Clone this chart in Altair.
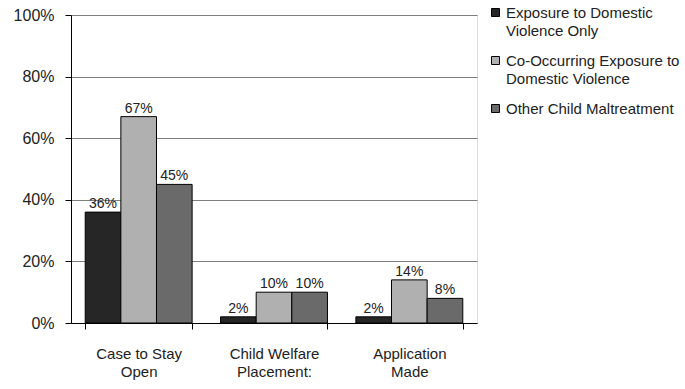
import altair as alt
import pandas as pd

categories = ["Case to Stay|Open", "Child Welfare|Placement:", "Application|Made"]
series = [
    "Exposure to Domestic|Violence Only",
    "Co-Occurring Exposure to|Domestic Violence",
    "Other Child Maltreatment",
]
colors = ["#262626", "#b0b0b0", "#6a6a6a"]
values = {
    series[0]: [36, 2, 2],
    series[1]: [67, 10, 14],
    series[2]: [45, 10, 8],
}

rows = []
for s in series:
    for c, v in zip(categories, values[s]):
        rows.append({"category": c, "series": s, "value": v / 100, "label": f"{v}%"})
df = pd.DataFrame(rows)

FONT = "Liberation Sans"
INK = "#222222"

x = alt.X(
    "category:N",
    sort=categories,
    scale=alt.Scale(paddingInner=0.21, paddingOuter=0.105),
    axis=alt.Axis(
        title=None,
        labelAngle=0,
        labelExpr="split(datum.label, '|')",
        labelFontSize=15,
        labelLineHeight=18,
        labelPadding=17,
        labelColor=INK,
        labelFont=FONT,
        tickBand="extent",
        tickSize=6,
        tickColor="#000000",
        domainColor="#000000",
    ),
)
y = alt.Y(
    "value:Q",
    scale=alt.Scale(domain=[0, 1], nice=False),
    axis=alt.Axis(
        title=None,
        format=".0%",
        values=[0, 0.2, 0.4, 0.6, 0.8, 1.0],
        labelFontSize=16,
        labelFont=FONT,
        labelColor=INK,
        labelPadding=11,
        tickSize=6,
        tickColor="#000000",
        domainColor="#000000",
        gridColor="#7f7f7f",
        gridOpacity=1,
    ),
)
xoff = alt.XOffset("series:N", sort=series)

bars = alt.Chart(df).mark_bar(stroke="#000000", strokeWidth=1).encode(
    x=x,
    xOffset=xoff,
    y=y,
    color=alt.Color(
        "series:N",
        sort=series,
        scale=alt.Scale(domain=series, range=colors),
        legend=alt.Legend(
            title=None,
            orient="none",
            legendX=417,
            legendY=-10,
            symbolType="square",
            symbolSize=64,
            symbolStrokeColor="#000000",
            symbolStrokeWidth=1,
            symbolOpacity=1,
            labelExpr="split(datum.label, '|')",
            labelFont=FONT,
            labelFontSize=15,
            labelColor=INK,
            labelLimit=300,
            labelOffset=3,
            labelBaseline="middle",
            rowPadding=14,
        ),
    ),
)

texts = alt.Chart(df).mark_text(
    baseline="bottom", dy=-1, fontSize=14, font=FONT, color=INK
).encode(
    x=x,
    xOffset=xoff,
    y=y,
    text="label:N",
)

chart = (
    alt.layer(bars, texts)
    .properties(
        width=406,
        height=308,
        autosize=alt.AutoSizeParams(type="none"),
        padding={"left": 71, "top": 15, "right": 208, "bottom": 66},
        background="#ffffff",
    )
    .configure_view(stroke="#7f7f7f", strokeWidth=1)
    .configure(
        style={
            "guide-label": {
                "lineHeight": 18,
                "font": FONT,
                "fontSize": 15,
                "fill": INK,
            }
        }
    )
    .configure_axisY(labelFontSize=16)
)

chart.save("out.html", embed_options={"renderer": "svg", "actions": False})
